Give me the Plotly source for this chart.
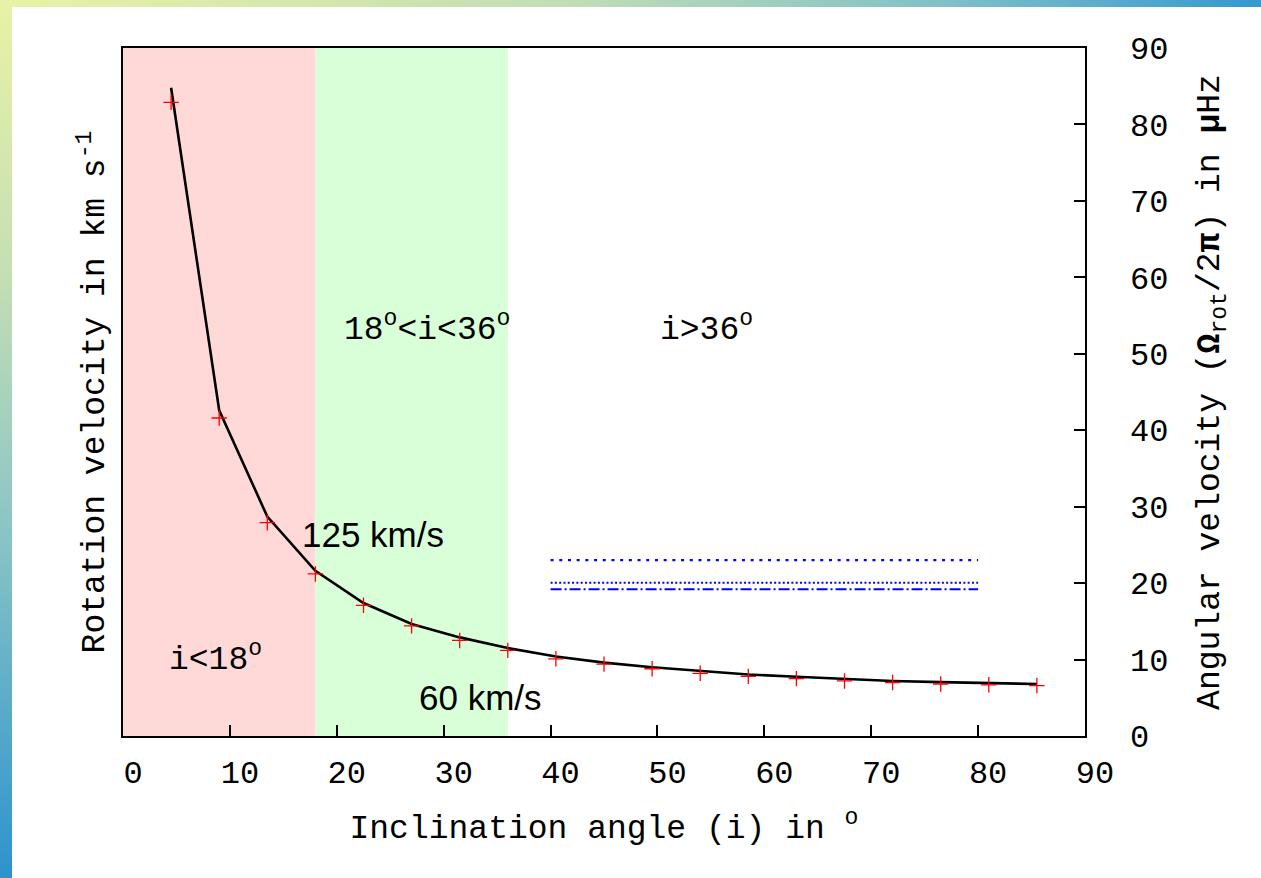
import base64
import plotly.graph_objects as go

# ---------------- data ----------------
inclination = [4.5, 9.0, 13.5, 18.0, 22.5, 27.0, 31.5, 36.0, 40.5, 45.0,
               49.5, 54.0, 58.5, 63.0, 67.5, 72.0, 76.5, 81.0, 85.5]
omega_points = [82.9, 41.6, 27.9, 21.2, 17.1, 14.4, 12.5, 11.2, 10.1, 9.4,
                8.8, 8.2, 7.8, 7.5, 7.2, 7.0, 6.8, 6.7, 6.6]
omega_curve = [84.8, 42.6, 28.7, 21.6, 17.4, 14.65, 12.9, 11.5, 10.4, 9.6,
               9.0, 8.5, 8.05, 7.75, 7.45, 7.2, 7.05, 6.9, 6.8]
ref_x = [40, 80]
ref_levels = [23.0, 20.05, 19.2]
region_edges = [0, 18, 36]
region_colors = ["#ffd8d8", "#d8ffd8"]
x_ticks = [0, 10, 20, 30, 40, 50, 60, 70, 80, 90]
y_ticks = [0, 10, 20, 30, 40, 50, 60, 70, 80, 90]

MONO = "Liberation Mono, Courier New, monospace"
SANS = "Liberation Sans, Arial, sans-serif"

W, H = 1261, 878
L, R, T, B = 123, 176, 48, 142
PW, PH = W - L - R, H - T - B

# ---------------- background frame (gradient border) ----------------
svg = f"""<svg xmlns='http://www.w3.org/2000/svg' width='{W}' height='{H}' viewBox='0 0 {W} {H}' preserveAspectRatio='none'>
<defs>
<linearGradient id='gt' x1='0' y1='0' x2='1' y2='0'>
<stop offset='0' stop-color='#e9f2a6'/><stop offset='0.45' stop-color='#c2deb5'/>
<stop offset='0.75' stop-color='#80c0c8'/><stop offset='1' stop-color='#3399d0'/></linearGradient>
<linearGradient id='gl' x1='0' y1='0' x2='0' y2='1'>
<stop offset='0' stop-color='#e9f2a6'/><stop offset='0.3' stop-color='#c6e0b3'/>
<stop offset='0.6' stop-color='#8cc5c5'/><stop offset='1' stop-color='#2c93cd'/></linearGradient>
</defs>
<rect x='0' y='0' width='{W}' height='{H}' fill='white'/>
<rect x='0' y='0' width='{W}' height='7' fill='url(#gt)'/>
<rect x='0' y='0' width='12' height='{H}' fill='url(#gl)'/>
</svg>"""
svg_uri = "data:image/svg+xml;base64," + base64.b64encode(svg.encode()).decode()

fig = go.Figure()

# curve (left axis, same 0-90 scale) and points (right axis)
fig.add_trace(go.Scatter(x=inclination, y=omega_curve, yaxis="y", mode="lines",
                         line=dict(color="black", width=2.6), showlegend=False,
                         hoverinfo="skip"))
fig.add_trace(go.Scatter(x=inclination, y=omega_points, yaxis="y2", mode="markers",
                         marker=dict(symbol="cross-thin", size=11, color="red",
                                     line=dict(color="red", width=1.3)),
                         showlegend=False))

# reference levels
dash_styles = ["3px,5.7px", "2px,2.3px", "11px,3px,2px,3px"]
for lvl, ds in zip(ref_levels, dash_styles):
    fig.add_trace(go.Scatter(x=ref_x, y=[lvl, lvl], yaxis="y2", mode="lines",
                             line=dict(color="#0000ff", width=2.2, dash=ds),
                             showlegend=False))

# shaded regions
shapes = []
for i, col in enumerate(region_colors):
    shapes.append(dict(type="rect", xref="x", yref="paper",
                       x0=region_edges[i], x1=region_edges[i + 1], y0=0, y1=1,
                       fillcolor=col, line=dict(width=0), layer="below"))

annotations = [
    dict(x=8.7, y=10.3, text="i&lt;18<sup>o</sup>", font=dict(family=MONO, size=33)),
    dict(x=28.4, y=53.4, text="18<sup>o</sup>&lt;i&lt;36<sup>o</sup>", font=dict(family=MONO, size=33)),
    dict(x=54.6, y=53.4, text="i&gt;36<sup>o</sup>", font=dict(family=MONO, size=33)),
    dict(x=23.4, y=26.3, text="125 km/s", font=dict(family=SANS, size=35)),
    dict(x=33.4, y=5.0, text="60 km/s", font=dict(family=SANS, size=35)),
]
for a in annotations:
    a.update(xref="x", yref="y2", showarrow=False, xanchor="center", yanchor="middle")
    a["font"]["color"] = "black"

fig.update_layout(
    width=W, height=H,
    margin=dict(l=L, r=R, t=T, b=B),
    paper_bgcolor="white", plot_bgcolor="rgba(0,0,0,0)",
    images=[dict(source=svg_uri, xref="paper", yref="paper",
                 x=-L / PW, y=1 + T / PH, sizex=W / PW, sizey=H / PH,
                 xanchor="left", yanchor="top", sizing="stretch", layer="below")],
    shapes=shapes,
    annotations=annotations,
    xaxis=dict(range=[0, 90], tickvals=x_ticks, ticks="inside", ticklen=11,
               tickwidth=1.5, tickcolor="black", showgrid=False, zeroline=False,
               showline=True, linecolor="black", linewidth=2, mirror=True,
               tickfont=dict(family=MONO, size=32, color="black"),
               ticklabelstandoff=7, ticklabelshift=10,
               title=dict(text="Inclination angle (i) in <sup>o</sup>",
                          font=dict(family=MONO, size=33, color="black"), standoff=22)),
    yaxis=dict(range=[0, 90], showticklabels=False, ticks="", showgrid=False,
               zeroline=False, showline=True, linecolor="black", linewidth=2, mirror=True,
               title=dict(text="Rotation velocity in km s<sup>-1</sup>",
                          font=dict(family=MONO, size=33, color="black"), standoff=6)),
    yaxis2=dict(range=[0, 90], overlaying="y", side="right", tickvals=y_ticks,
                ticks="inside", ticklen=11, tickwidth=1.5, tickcolor="black",
                showgrid=False, zeroline=False, showline=False,
                tickfont=dict(family=MONO, size=32, color="black"),
                ticklabelstandoff=44,
                title=dict(text="Angular velocity (<b>Ω</b><sub>rot</sub>/2<b>π</b>) in <b>μ</b>Hz",
                           font=dict(family=MONO, size=33, color="black"), standoff=28)),
)

fig.write_html("out.html", config={"displayModeBar": False},
               post_script="document.body.style.margin='0';document.body.style.overflow='hidden';")
